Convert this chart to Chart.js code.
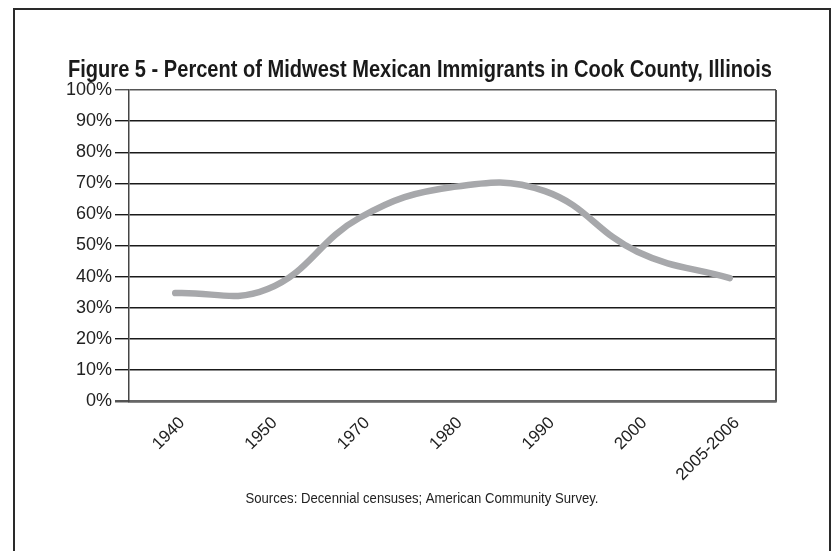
<!DOCTYPE html>
<html>
<head>
<meta charset="utf-8">
<script src="https://cdn.jsdelivr.net/npm/chart.js@4.4.1/dist/chart.umd.min.js"></script>
<style>
  html, body { margin: 0; padding: 0; background: #fff; }
  #wrap { width: 831px; height: 551px; position: relative; }
</style>
</head>
<body>
<div id="wrap"><canvas id="c" width="831" height="551"></canvas></div>
<script>
const titleText = "Figure 5 - Percent of Midwest Mexican Immigrants in Cook County, Illinois";
const sourceText = "Sources: Decennial censuses; American Community Survey.";
const categories = ["1940", "1950", "1970", "1980", "1990", "2000", "2005-2006"];
const percentValues = [34.7, 36, 59, 68.8, 67.5, 48, 39.5];
const yTickValues = [0, 10, 20, 30, 40, 50, 60, 70, 80, 90, 100];

const TICK_FONT = "'Liberation Sans', Arial, sans-serif";
const TEXT_FONT = "'Liberation Sans', Arial, sans-serif";

function drawCondensed(ctx, text, font, cx, cy, targetWidth) {
  ctx.save();
  ctx.font = font;
  const w = ctx.measureText(text).width;
  const s = targetWidth / w;
  ctx.translate(cx, cy);
  ctx.scale(s, 1);
  ctx.textAlign = 'center';
  ctx.textBaseline = 'middle';
  ctx.fillText(text, 0, 0);
  ctx.restore();
}

const framePlugin = {
  id: 'frame',
  beforeDraw(chart) {
    const ctx = chart.ctx;
    ctx.save();
    ctx.fillStyle = '#fff';
    ctx.fillRect(0, 0, chart.width, chart.height);
    ctx.strokeStyle = '#2a2a2a';
    ctx.lineWidth = 2;
    ctx.strokeRect(14, 9, 816, 560);
    ctx.restore();
  },
  afterDraw(chart) {
    const ctx = chart.ctx;
    const a = chart.chartArea;
    ctx.save();
    ctx.strokeStyle = '#555';
    ctx.lineWidth = 2;
    ctx.beginPath();
    ctx.moveTo(a.right, a.top);
    ctx.lineTo(a.right, a.bottom);
    ctx.stroke();
    ctx.fillStyle = '#1a1a1a';
    drawCondensed(ctx, titleText, "bold 24px " + TEXT_FONT, 420, 70, 704);
    ctx.fillStyle = '#222';
    drawCondensed(ctx, sourceText, "15px " + TEXT_FONT, 422, 499, 353);
    ctx.restore();
  }
};

new Chart(document.getElementById('c'), {
  type: 'line',
  data: {
    labels: categories,
    datasets: [{
      data: percentValues,
      borderColor: '#a7a8ab',
      borderWidth: 6.5,
      borderCapStyle: 'round',
      borderJoinStyle: 'round',
      tension: 0.42,
      pointRadius: 0,
      fill: false
    }]
  },
  options: {
    responsive: false,
    animation: false,
    devicePixelRatio: 1,
    layout: { padding: { left: 0, right: 55, top: 90, bottom: 0 } },
    plugins: { legend: { display: false }, tooltip: { enabled: false } },
    scales: {
      x: {
        type: 'category',
        offset: true,
        grid: { display: false, drawTicks: false },
        border: { display: true, color: '#666', width: 2.5 },
        ticks: {
          maxRotation: 45, minRotation: 45,
          color: '#222',
          padding: 12,
          labelOffset: 7,
          font: { family: TICK_FONT, size: 17 }
        },
        afterFit(scale) { scale.height = 150; }
      },
      y: {
        min: 0, max: 100,
        afterBuildTicks(scale) { scale.ticks = yTickValues.map(v => ({ value: v })); },
        grid: {
          color: (c) => (c.tick && (c.tick.value === 0 || c.tick.value === 100)) ? '#555' : '#1a1a1a',
          lineWidth: (c) => (c.tick && c.tick.value === 0) ? 2.5 : 1.4,
          tickLength: 14,
          drawTicks: true
        },
        border: { display: true, color: '#444', width: 1.5 },
        ticks: {
          color: '#222',
          padding: 3,
          font: { family: TICK_FONT, size: 18 },
          callback: (v) => v + '%'
        },
        afterFit(scale) { scale.width = 129; }
      }
    }
  },
  plugins: [framePlugin]
});
</script>
</body>
</html>
